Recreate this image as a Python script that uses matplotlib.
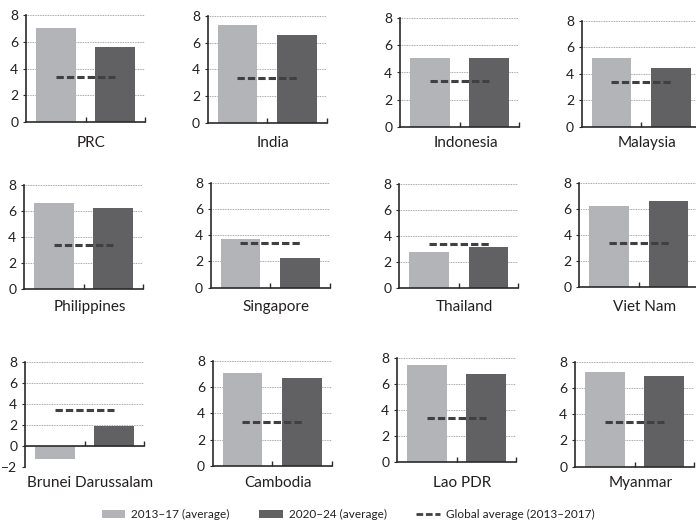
import matplotlib
matplotlib.use('Agg')
import matplotlib.pyplot as plt
from matplotlib.patches import Patch
from matplotlib.lines import Line2D

plt.rcParams['font.family'] = ['Lato', 'DejaVu Sans']

countries = ['PRC', 'India', 'Indonesia', 'Malaysia',
             'Philippines', 'Singapore', 'Thailand', 'Viet Nam',
             'Brunei Darussalam', 'Cambodia', 'Lao PDR', 'Myanmar']
avg_2013_17 = [7.04, 7.33, 5.05, 5.16, 6.6, 3.69, 2.77, 6.22, -1.2, 7.07, 7.46, 7.21]
avg_2020_24 = [5.6, 6.57, 5.05, 4.41, 6.23, 2.26, 3.15, 6.6, 1.9, 6.69, 6.77, 6.91]
global_avg = 3.38
series_labels = ['2013\u201317 (average)', '2020\u201324 (average)', 'Global average (2013\u20132017)']

LIGHT = '#b3b4b8'
DARK = '#616163'
LINE = '#404042'
TXT = '#231f20'

W, H = 696, 522
# panel boxes in pixels: left, top, bottom (axis width fixed)
boxes = [(26, 15.5, 121.7), (207.7, 16, 122.7), (400, 18.3, 126.7), (581.7, 20.7, 126.7),
         (24, 185, 289), (210.7, 182.7, 287.7), (399.3, 184, 288), (579.3, 182.7, 287.3),
         (25, 361.7, 467.3), (212.7, 360.7, 466), (397, 358, 462), (575, 361.7, 466.7)]
ax_w = 119
label_y = [143.3, 306.7, 483.3]

fig = plt.figure(figsize=(W / 100, H / 100), dpi=100)

for i, name in enumerate(countries):
    left, top, bottom = boxes[i]
    ax = fig.add_axes([left / W, (H - bottom) / H, ax_w / W, (bottom - top) / H])
    ax.set_axisbelow(True)
    ax.bar([0, 1], [avg_2013_17[i], avg_2020_24[i]], width=0.67,
           color=[LIGHT, DARK], zorder=2)
    ax.plot([0, 1], [global_avg, global_avg], color=LINE, lw=2.2,
            dashes=(2.4, 1.0), zorder=3, solid_capstyle='butt', dash_capstyle='butt')
    ax.set_xlim(-0.5, 1.5)
    if name == 'Brunei Darussalam':
        ax.set_ylim(-2, 8)
        ax.set_yticks([-2, 0, 2, 4, 6, 8])
    else:
        ax.set_ylim(0, 8)
        ax.set_yticks([0, 2, 4, 6, 8])
    ax.yaxis.grid(True, linestyle=(0, (1, 1)), color='#8c8c8c', linewidth=0.6)
    ax.spines['top'].set_visible(False)
    ax.spines['right'].set_visible(False)
    ax.spines['bottom'].set_position(('data', 0))
    for s in ('left', 'bottom'):
        ax.spines[s].set_color('#2a2a2a')
        ax.spines[s].set_linewidth(1.2)
    ax.set_xticks([0.5, 1.5])
    ax.set_xticklabels([])
    ax.tick_params(axis='x', direction='in', length=3.5, width=1.0, color='#2a2a2a')
    ax.tick_params(axis='y', direction='out', length=2.5, width=0.8, color='#2a2a2a',
                   labelsize=10, labelcolor=TXT, pad=3)
    cx = (left + ax_w / 2 + 6) / W
    fig.text(cx, (H - label_y[i // 4]) / H, name, ha='center', va='center',
             fontsize=11, color=TXT)

handles = [Patch(facecolor=LIGHT, edgecolor='none'),
           Patch(facecolor=DARK, edgecolor='none'),
           Line2D([0], [0], color=LINE, lw=2.0, dashes=(2.4, 1.0))]
fig.legend(handles, series_labels, loc='center', bbox_to_anchor=(0.5, (H - 514.5) / H),
           ncol=3, frameon=False, fontsize=8.5, handlelength=2.0, handleheight=0.6,
           columnspacing=2.5, handletextpad=0.5, labelcolor=TXT)

fig.savefig('out.png', dpi=100)
